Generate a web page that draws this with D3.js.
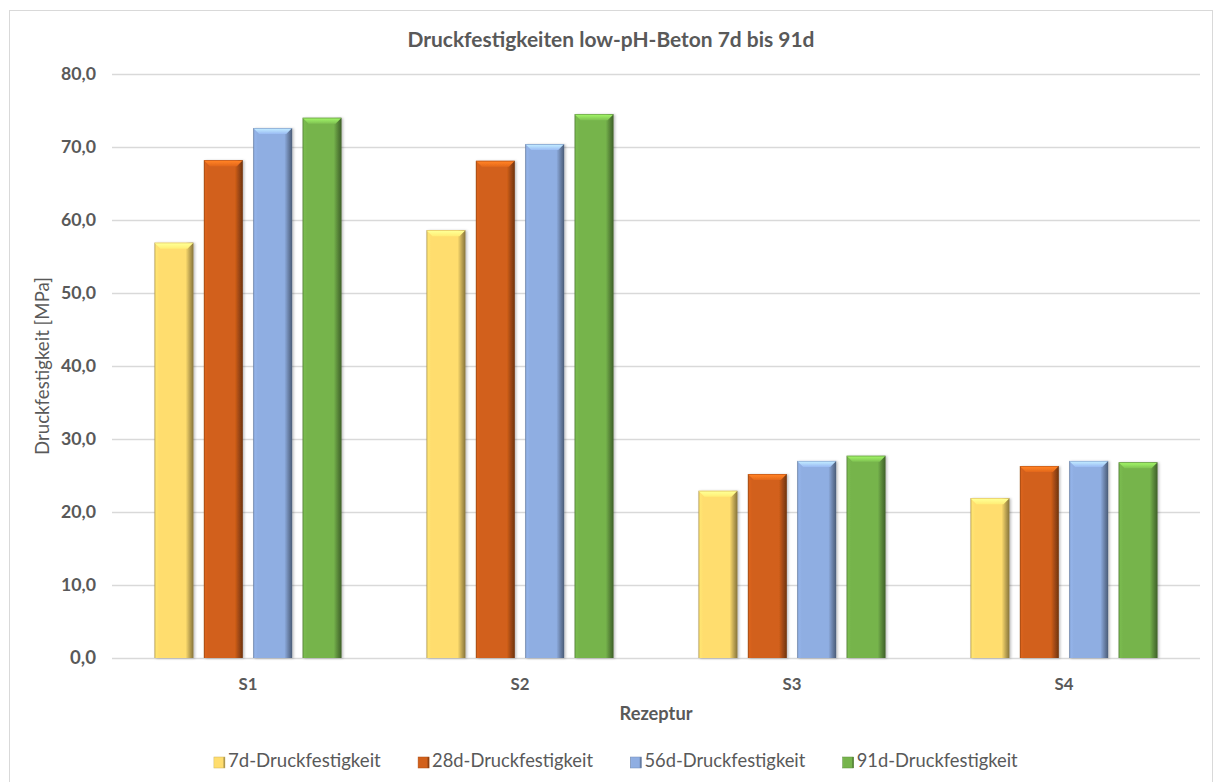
<!DOCTYPE html>
<html>
<head>
<meta charset="utf-8">
<script src="https://cdn.jsdelivr.net/npm/d3@7"></script>
<style>
  html, body { margin: 0; padding: 0; background: #fff; }
  svg { display: block; }
  text { font-family: Lato, "Open Sans", sans-serif; }
</style>
</head>
<body>
<svg id="chart" width="1214" height="782"></svg>
<script>
// ---------- data ----------
const title = "Druckfestigkeiten low-pH-Beton 7d bis 91d";
const yTitle = "Druckfestigkeit [MPa]";
const xTitle = "Rezeptur";
const categories = ["S1", "S2", "S3", "S4"];
const seriesNames = ["7d-Druckfestigkeit", "28d-Druckfestigkeit", "56d-Druckfestigkeit", "91d-Druckfestigkeit"];
const values7d  = [56.9, 58.6, 22.9, 21.9];
const values28d = [68.2, 68.1, 25.2, 26.3];
const values56d = [72.6, 70.4, 27.0, 27.0];
const values91d = [74.0, 74.5, 27.7, 26.8];
const yTicks = [0, 10, 20, 30, 40, 50, 60, 70, 80];
const seriesColors = ["#FFDD6E", "#D2601A", "#8FAEE2", "#76B44C"];

const seriesValues = [values7d, values28d, values56d, values91d];

// ---------- setup ----------
const svg = d3.select("#chart");
const plot = { left: 112, right: 1200, top: 74, bottom: 658 };
const de = d3.formatLocale({ decimal: ",", thousands: ".", grouping: [3], currency: ["", "€"] });
const fmt = de.format(".1f");
const textCol = "#595959";

function fit(sel, target) {
  const n = sel.node();
  const fs = parseFloat(sel.attr("font-size"));
  const len = n.getComputedTextLength();
  if (len > 0) sel.attr("font-size", (fs * target / len).toFixed(2));
  return sel;
}

// chart border
svg.append("rect").attr("x", 9.5).attr("y", 10.5).attr("width", 1203).attr("height", 790)
  .attr("fill", "#fff").attr("stroke", "#d9d9d9").attr("stroke-width", 1);

const x0 = d3.scaleBand().domain(categories).range([plot.left, plot.right]).paddingInner(0).paddingOuter(0);
const x1 = d3.scaleBand().domain(seriesNames).range([0, x0.bandwidth()]).paddingInner(0.21).paddingOuter(0.86);
const y = d3.scaleLinear().domain([0, 80]).range([plot.bottom, plot.top]);

// gradients
const defs = svg.append("defs");
seriesColors.forEach((c, i) => {
  const base = d3.color(c);
  const g = defs.append("linearGradient").attr("id", "grad" + i).attr("x1", "0").attr("x2", "1").attr("y1", "0").attr("y2", "0");
  [[0, base.darker(1.0)], [0.04, base.brighter(0.1)], [0.12, base], [0.8, base], [0.9, base.darker(0.8)], [1, base.darker(1.8)]]
    .forEach(([o, col]) => g.append("stop").attr("offset", o).attr("stop-color", col.formatHex()));
  const t = defs.append("linearGradient").attr("id", "top" + i).attr("x1", "0").attr("x2", "0").attr("y1", "0").attr("y2", "1");
  [[0, base.darker(0.4)], [0.2, base.brighter(0.8)], [1, base.brighter(0.2)]]
    .forEach(([o, col]) => t.append("stop").attr("offset", o).attr("stop-color", col.formatHex()));
});
const f = defs.append("filter").attr("id", "shadow").attr("x", "-20%").attr("y", "-5%").attr("width", "140%").attr("height", "110%");
f.append("feDropShadow").attr("dx", 1.5).attr("dy", 0.5).attr("stdDeviation", 1.2).attr("flood-color", "#000").attr("flood-opacity", 0.25);

// gridlines
svg.append("g").selectAll("line").data(yTicks).join("line")
  .attr("x1", plot.left).attr("x2", plot.right)
  .attr("y1", d => Math.round(y(d)) + 0.5).attr("y2", d => Math.round(y(d)) + 0.5)
  .attr("stroke", "#d9d9d9").attr("stroke-width", 1.3);

// y tick labels
const yAxis = svg.append("g").attr("transform", `translate(96,0)`)
  .call(d3.axisLeft(y).tickValues(yTicks).tickFormat(fmt).tickSize(0).tickPadding(0));
yAxis.select(".domain").remove();
yAxis.selectAll("text").attr("fill", textCol).attr("font-size", 15).attr("font-weight", "bold")
  .attr("font-family", "Lato, sans-serif");
yAxis.selectAll("text").each(function () { fit(d3.select(this), this.textContent.length === 4 ? 35 : 26); });

// bars
const groups = svg.append("g").selectAll("g").data(categories).join("g")
  .attr("transform", d => `translate(${x0(d)},0)`);
groups.each(function (cat, ci) {
  const g = d3.select(this);
  const dat = seriesNames.map((s, si) => ({ s, si, v: seriesValues[si][ci] }));
  const bars = g.selectAll("g.bar").data(dat).join("g").attr("class", "bar").attr("filter", "url(#shadow)");
  bars.append("rect")
    .attr("x", d => x1(d.s)).attr("width", x1.bandwidth())
    .attr("y", d => y(d.v)).attr("height", d => y(0) - y(d.v))
    .attr("fill", d => `url(#grad${d.si})`);
  bars.append("path")
    .attr("d", d => {
      const xl = x1(d.s), xr = xl + x1.bandwidth(), yt = y(d.v), b = 6;
      return `M${xl},${yt}L${xr},${yt}L${xr - b},${yt + b}L${xl + b},${yt + b}Z`;
    })
    .attr("fill", d => `url(#top${d.si})`);
});

// x axis labels
const xAxis = svg.append("g").attr("transform", `translate(0,${plot.bottom + 32})`)
  .call(d3.axisBottom(x0).tickSize(0).tickPadding(0));
xAxis.select(".domain").remove();
xAxis.selectAll("text").attr("dy", null).attr("fill", textCol).attr("font-size", 16).attr("font-weight", "bold")
  .attr("font-family", "Lato, sans-serif");
xAxis.selectAll("text").each(function () { fit(d3.select(this), 19); });

// title
fit(svg.append("text").attr("x", 611).attr("y", 47).attr("text-anchor", "middle")
  .attr("font-size", 18).attr("font-weight", "bold").attr("fill", textCol).text(title), 407);

// axis titles
fit(svg.append("text").attr("transform", `translate(49,${(plot.top + plot.bottom) / 2}) rotate(-90)`)
  .attr("text-anchor", "middle").attr("font-size", 15).attr("fill", textCol).text(yTitle), 178);
fit(svg.append("text").attr("x", (plot.left + plot.right) / 2).attr("y", 720).attr("text-anchor", "middle")
  .attr("font-size", 15).attr("font-weight", "bold").attr("fill", textCol).text(xTitle), 73);

// legend
const leg = svg.append("g");
const items = leg.selectAll("g").data(seriesNames).join("g");
items.append("rect").attr("width", 11).attr("height", 11).attr("y", -10)
  .attr("fill", (d, i) => `url(#grad${i})`).attr("stroke", (d, i) => d3.color(seriesColors[i]).darker(0.6)).attr("stroke-width", 0.5);
items.append("text").attr("x", 14).attr("y", 0).attr("font-size", 16).attr("fill", textCol).text(d => d)
  .each(function (d) { fit(d3.select(this), d.length === 18 ? 153 : 161); });
const widths = [];
items.each(function () { widths.push(this.getBBox().width); });
const gap = 37;
const total = d3.sum(widths) + gap * (widths.length - 1);
let start = 616 - total / 2;
items.attr("transform", (d, i) => {
  const xx = start; start += widths[i] + gap;
  return `translate(${xx},767)`;
});
</script>
</body>
</html>
